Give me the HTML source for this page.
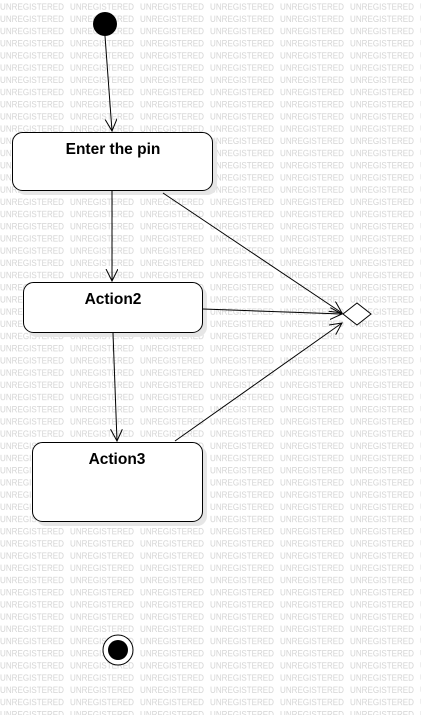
<!DOCTYPE html>
<html><head><style>html,body{margin:0;padding:0;background:#fff;}svg{display:block}</style></head>
<body>
<svg width="421" height="715" xmlns="http://www.w3.org/2000/svg">
<defs>
<pattern id="wm" x="0" y="0" width="70" height="12.2" patternUnits="userSpaceOnUse">
<text x="0" y="10" font-family="Liberation Sans, sans-serif" font-size="9" fill="#d4d4d4" textLength="64" lengthAdjust="spacingAndGlyphs">UNREGISTERED</text>
</pattern>
<marker id="ar" markerWidth="14" markerHeight="14" refX="12" refY="6" orient="auto" markerUnits="userSpaceOnUse">
<path d="M0,0 L12,6 L0,12" fill="none" stroke="#000" stroke-width="1"/>
</marker>
</defs>
<rect width="421" height="715" fill="url(#wm)"/>
<g fill="#e6e6e6">
<rect x="16" y="136" width="201" height="59" rx="10"/>
<rect x="27" y="286" width="180" height="51" rx="10"/>
<rect x="36" y="446" width="171" height="80" rx="10"/>
</g>
<circle cx="105" cy="24" r="12" fill="#000"/>
<rect x="12.5" y="132.5" width="200" height="58" rx="10" fill="#fff" stroke="#000"/>
<rect x="23.5" y="282.5" width="179" height="50" rx="10" fill="#fff" stroke="#000"/>
<rect x="32.5" y="442.5" width="170" height="79" rx="10" fill="#fff" stroke="#000"/>
<g font-family="Liberation Sans, sans-serif" font-size="15.5" font-weight="bold" text-anchor="middle" fill="#000">
<text x="113" y="154">Enter the pin</text>
<text x="113" y="304">Action2</text>
<text x="117" y="464">Action3</text>
</g>
<polygon points="343,314 357,303 371,314 357,325" fill="#fff" stroke="#000"/>
<g stroke="#000" fill="none" marker-end="url(#ar)">
<line x1="105" y1="36" x2="112" y2="131"/>
<line x1="112" y1="191" x2="112" y2="281"/>
<line x1="113" y1="333" x2="117" y2="441"/>
<line x1="163" y1="193" x2="342" y2="313"/>
<line x1="203" y1="309" x2="342" y2="314"/>
<line x1="175" y1="441" x2="342" y2="323"/>
</g>
<circle cx="118" cy="650" r="15" fill="#fff" stroke="#000"/>
<circle cx="118" cy="650" r="10" fill="#000"/>
</svg>
</body></html>
